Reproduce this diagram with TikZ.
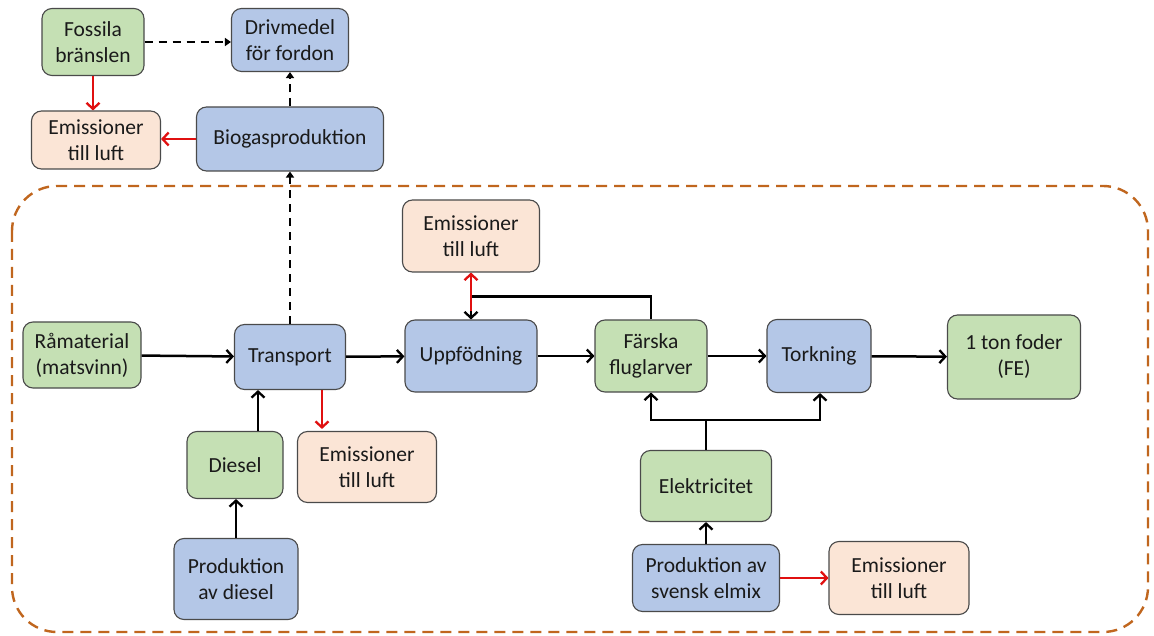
\documentclass[tikz,border=0pt]{standalone}
\usepackage{fontspec}
\setmainfont{Carlito}
\usetikzlibrary{arrows.meta}
\definecolor{gfill}{HTML}{C5E0B4}
\definecolor{bfill}{HTML}{B4C7E7}
\definecolor{pfill}{HTML}{FBE5D6}
\definecolor{bdr}{HTML}{4A4A4A}
\definecolor{orng}{HTML}{C0661E}
\definecolor{redc}{HTML}{E01010}
\definecolor{txt}{HTML}{1A1A1A}
\tikzset{
  box/.style={draw=bdr, line width=1.1pt, rounded corners=10pt, inner sep=0pt, align=center, text=txt,
    font=\fontsize{21.5}{26}\selectfont},
  gbox/.style={box, fill=gfill},
  bbox/.style={box, fill=bfill},
  pbox/.style={box, fill=pfill},
  arr/.style={line width=2.5pt, -{Straight Barb[length=6pt,width=13pt,line width=2.3pt]}},
  redarr/.style={draw=redc, line width=2.5pt, -{Straight Barb[length=6pt,width=13pt,line width=2.3pt]}},
  dasharr/.style={line width=2.3pt, dash pattern=on 8pt off 6pt, -{Triangle[length=6pt,width=8pt]}},
}
\begin{document}
\begin{tikzpicture}[x=1pt,y=-1pt]
\useasboundingbox (0,0) rectangle (1154,636);
\draw[orng, line width=2.4pt, dash pattern=on 11pt off 7pt, rounded corners=45pt] (12,186) rectangle (1148,632);

\node[gbox, minimum width=102, minimum height=67] (fos) at (93,42) {Fossila\\bränslen};
\node[bbox, minimum width=117, minimum height=63] (driv) at (290,40) {Drivmedel\\för fordon};
\node[pbox, minimum width=129, minimum height=58] (em0) at (96,140) {Emissioner\\till luft};
\node[bbox, minimum width=187, minimum height=64] (bio) at (290,139) {Biogasproduktion};

\node[pbox, minimum width=137, minimum height=72] (em1) at (471,236) {Emissioner\\till luft};
\node[gbox, minimum width=118, minimum height=66] (ram) at (82,355) {Råmaterial\\(matsvinn)};
\node[bbox, minimum width=111, minimum height=65] (trans) at (290,357) {Transport};
\node[bbox, minimum width=132, minimum height=72] (upp) at (471,356) {Uppfödning};
\node[gbox, minimum width=112, minimum height=72] (far) at (651,356) {Färska\\fluglarver};
\node[bbox, minimum width=104, minimum height=73] (tork) at (819,356) {Torkning};
\node[gbox, minimum width=133, minimum height=84] (ton) at (1014,357) {1 ton foder\\(FE)};

\node[gbox, minimum width=96, minimum height=67] (dies) at (235,465) {Diesel};
\node[pbox, minimum width=139, minimum height=71] (em2) at (367,467) {Emissioner\\till luft};
\node[bbox, minimum width=124, minimum height=81] (pdies) at (236,579) {Produktion\\av diesel};
\node[gbox, minimum width=131, minimum height=71] (el) at (706,486) {Elektricitet};
\node[bbox, minimum width=147, minimum height=67] (pel) at (706,578) {Produktion av\\svensk elmix};
\node[pbox, minimum width=140, minimum height=73] (em3) at (899,578) {Emissioner\\till luft};

% top part
\draw[dasharr] (fos.east) -- (fos.east -| driv.west);
\draw[redarr] (fos.south) -- (fos.south |- em0.north);
\draw[redarr] (bio.west) -- (bio.west -| em0.east);
\draw[dasharr] (bio.north) -- (driv.south);
\draw[dasharr] (trans.north) -- (bio.south);

% main chain
\draw[arr] (ram) -- (trans);
\draw[arr] (trans) -- (upp);
\draw[arr] (upp) -- (far);
\draw[arr] (far) -- (tork);
\draw[arr] (tork) -- (ton);

% transport inputs / outputs
\draw[arr] ([xshift=23pt]dies.north) -- ([xshift=23pt]dies.north |- trans.south);
\draw[redarr] ([xshift=32pt]trans.south) -- ([xshift=32pt,yshift=2pt]trans.south |- em2.north);
\draw[arr] (pdies.north) -- (pdies.north |- dies.south);

% feedback and emissions at Uppfoedning
\draw[arr] (far.north) -- ++(0,-23) coordinate (fb) -| (upp.north);
\draw[redarr] ([yshift=8pt]upp.north) -- (em1.south);

% electricity
\draw[line width=2.5pt] (el.north) -- ++(0,-30) coordinate (ej);
\draw[arr] (ej) -| (far.south);
\draw[arr] (ej) -| ([xshift=1pt]tork.south);
\draw[arr] (pel.north) -- (el.south);
\draw[redarr] (pel.east) -- (pel.east -| em3.west);
\end{tikzpicture}
\end{document}
